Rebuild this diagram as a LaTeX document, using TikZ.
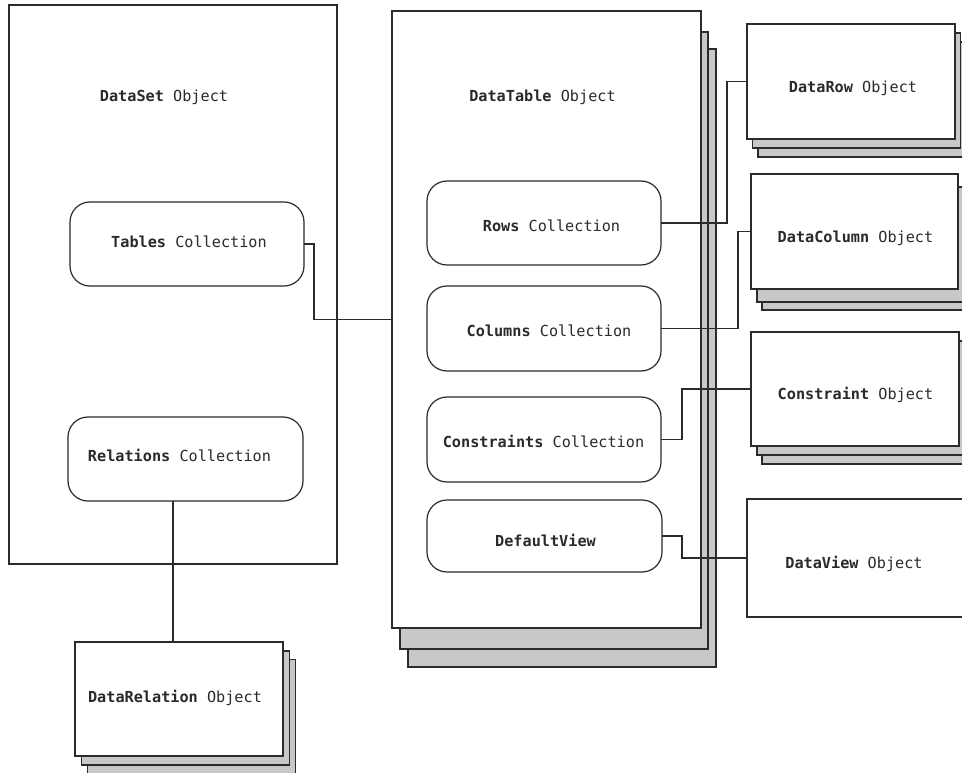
\documentclass[tikz,border=0pt]{standalone}
\usepackage{fontspec}
\setmonofont{DejaVu Sans Mono}
\definecolor{linec}{HTML}{2B2B2B}
\definecolor{shadec}{HTML}{C8C8C8}
\definecolor{txtc}{HTML}{2A2A2A}
\begin{document}
\begin{tikzpicture}[x=1pt,y=-1pt,
  sz/.style 2 args={minimum width=#1, minimum height=#2},
  box/.style={draw=linec, line width=1.2pt, fill=white, inner sep=0pt, outer sep=0pt},
  shadowbox/.style={draw=linec, line width=1.2pt, fill=shadec, inner sep=0pt, outer sep=0pt},
  coll/.style={box, rounded corners=20pt},
  lbl/.style={anchor=base, inner sep=0pt, text=txtc, font=\ttfamily\fontsize{15.2}{18}\selectfont},
  conn/.style={draw=linec, line width=1.1pt}]
\useasboundingbox (0,0) rectangle (962,773);
\clip (0,0) rectangle (962,773);

% DataSet object
\node[box, sz={328pt}{559pt}] (dataset) at (173,284.5) {};
\node[lbl] (datasetT) at (164,102) {\textbf{DataSet} Object};
\node[coll, sz={234pt}{84pt}] (tables) at (187,244) {};
\node[lbl] (tablesT) at (189,247.5) {\textbf{Tables} Collection};
\node[coll, sz={235pt}{84pt}] (relations) at (185.5,459) {};
\node[lbl] (relationsT) at (179.5,461.5) {\textbf{Relations} Collection};

% DataRelation stack
\node[shadowbox, sz={208pt}{114pt}] (drel3) at (191.5,716.5) {};
\node[shadowbox, sz={208pt}{114pt}] (drel2) at (185.5,708) {};
\node[box, sz={208pt}{114pt}] (datarelation) at (179,699) {};
\node[lbl] (datarelationT) at (175,702.5) {\textbf{DataRelation} Object};

% DataTable stack
\node[shadowbox, sz={308pt}{618pt}] (dt3) at (562,358) {};
\node[shadowbox, sz={308pt}{617pt}] (dt2) at (554,340.5) {};
\node[box, sz={309pt}{617pt}] (datatable) at (546.5,319.5) {};
\node[lbl] (datatableT) at (542.5,102) {\textbf{DataTable} Object};
\node[coll, sz={234pt}{84pt}] (rows) at (544,223) {};
\node[lbl] (rowsT) at (551.5,232) {\textbf{Rows} Collection};
\node[coll, sz={234pt}{85pt}] (columns) at (544,328.5) {};
\node[lbl] (columnsT) at (549,336) {\textbf{Columns} Collection};
\node[coll, sz={234pt}{85pt}] (constraints) at (544,439.5) {};
\node[lbl] (constraintsT) at (543.5,447) {\textbf{Constraints} Collection};
\node[coll, sz={235pt}{72pt}] (defaultview) at (544.5,536) {};
\node[lbl] (defaultviewT) at (545.5,546) {\textbf{DefaultView}};

% DataRow stack
\node[shadowbox, sz={208pt}{115pt}] (drow3) at (862,99.5) {};
\node[shadowbox, sz={208pt}{115pt}] (drow2) at (856.5,90.5) {};
\node[box, sz={208pt}{115pt}] (datarow) at (851,81.5) {};
\node[lbl] (datarowT) at (853,92.5) {\textbf{DataRow} Object};

% DataColumn stack
\node[shadowbox, sz={207pt}{115pt}] (dcol3) at (865.5,252.5) {};
\node[shadowbox, sz={207pt}{115pt}] (dcol2) at (860.5,244.5) {};
\node[box, sz={207pt}{115pt}] (datacolumn) at (854.5,231.5) {};
\node[lbl] (datacolumnT) at (855.5,242.5) {\textbf{DataColumn} Object};

% Constraint stack
\node[shadowbox, sz={208pt}{114pt}] (dcon3) at (866,407) {};
\node[shadowbox, sz={208pt}{114pt}] (dcon2) at (861,398) {};
\node[box, sz={208pt}{114pt}] (constraint) at (855,389) {};
\node[lbl] (constraintT) at (855.5,399.5) {\textbf{Constraint} Object};

% DataView
\node[box, sz={230pt}{118pt}] (dataview) at (862,558) {};
\node[lbl] (dataviewT) at (854,568) {\textbf{DataView} Object};

% connectors
\draw[conn] (tables.east) -- ++(10,0) |- (datatable.west);
\coordinate (reltop) at ([xshift=-12.5pt]relations.south);
\draw[conn] (reltop) -- (reltop |- datarelation.north);
\draw[conn] (rows.east) -- ++(66,0) |- (datarow.west);
\draw[conn] (columns.east) -- ++(77,0) |- (datacolumn.west);
\draw[conn] (constraints.east) -- ++(21,0) |- (constraint.west);
\draw[conn] (defaultview.east) -- ++(20,0) |- (dataview.west);
\end{tikzpicture}
\end{document}
